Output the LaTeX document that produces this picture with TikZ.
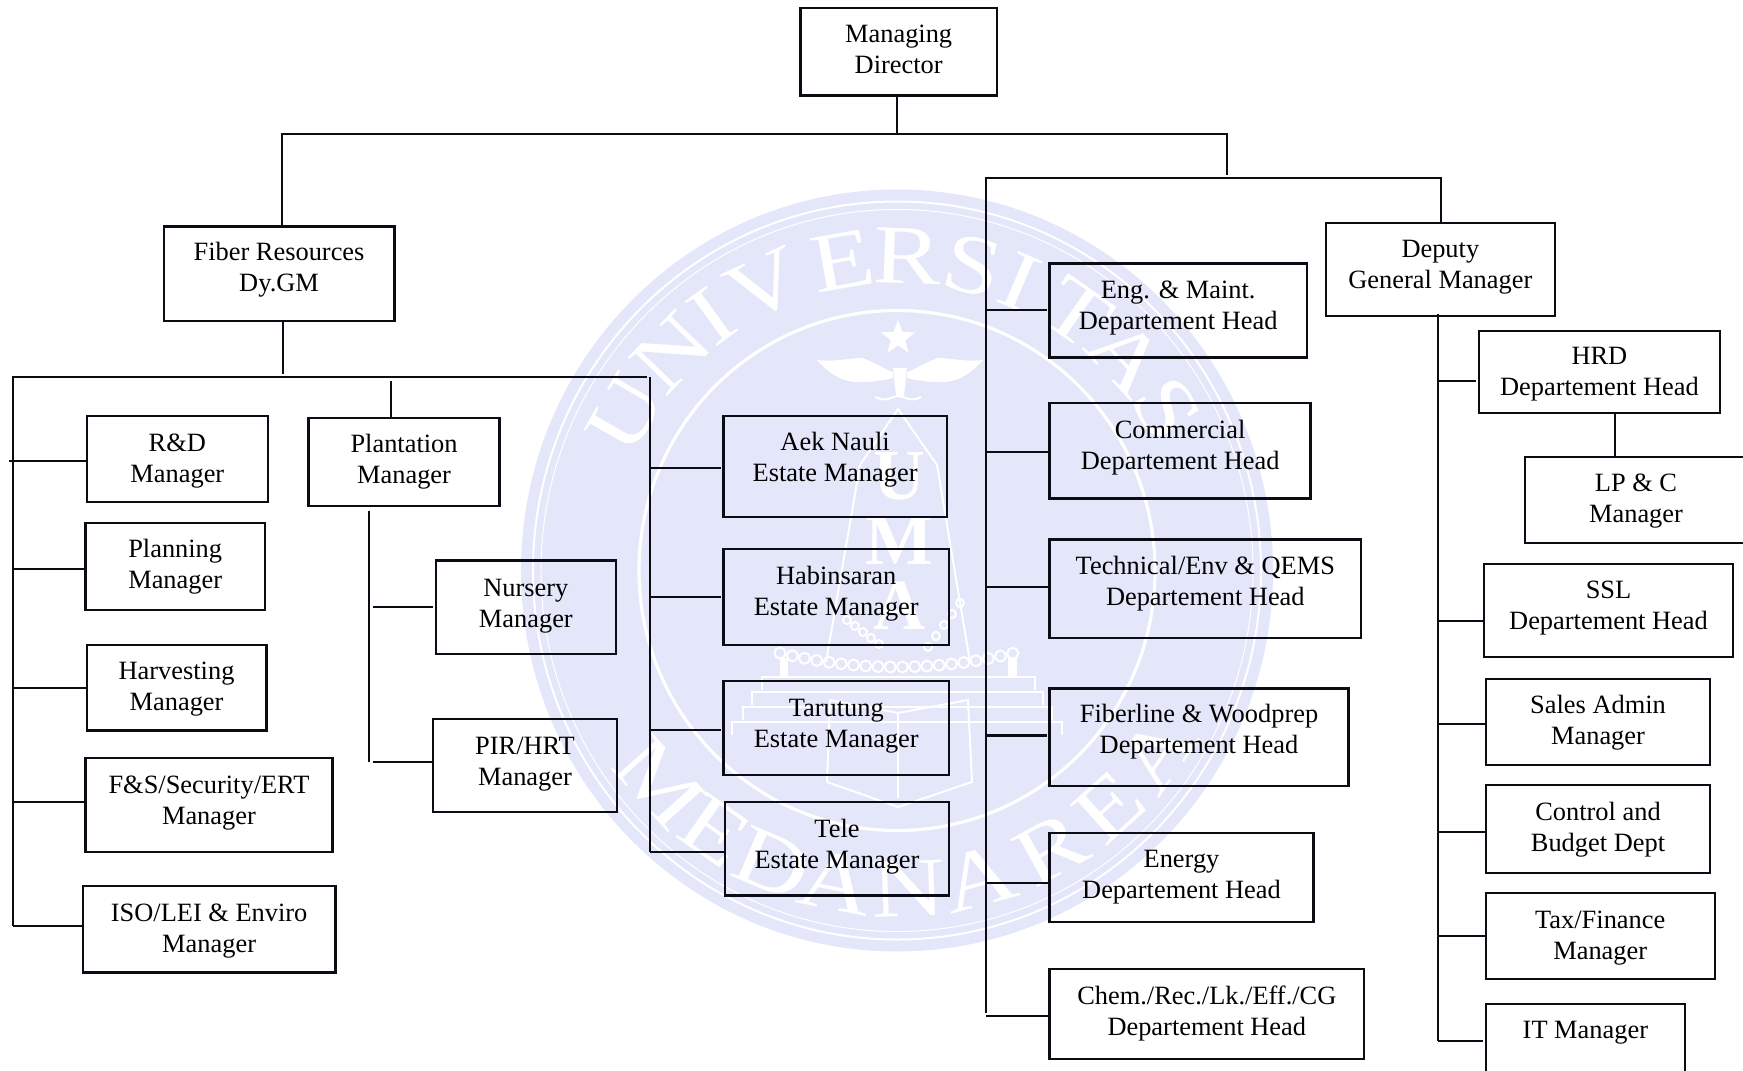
\documentclass[tikz,border=0pt]{standalone}
\usepackage{fontspec}
\setmainfont{Liberation Serif}
\usetikzlibrary{shapes.geometric}
\definecolor{wmblue}{HTML}{E4E6F9}
\definecolor{inkblack}{HTML}{0C0C14}
\newcommand{\lift}[1]{\rule[-#1]{0pt}{#1}}
\newcommand{\hd}{\rule{0pt}{13.3pt}}
\tikzset{
  orgbox/.style={draw=inkblack,line width=1.15pt,rectangle,inner sep=0pt,outer sep=0pt,align=center,font=\fontsize{13.2}{15.5}\selectfont},
  link/.style={draw=inkblack,line width=1.05pt},
  gap/.style={shorten >=1.5pt},
  wmline/.style={draw=white,line width=1pt},
  wmletter/.style={transform shape,xscale=1.22,text=white,inner sep=0pt,font=\fontsize{42}{42}\selectfont},
  wmshield/.style={text=white,inner sep=0pt,font=\fontsize{36}{36}\selectfont\bfseries}
}
\begin{document}
\begin{tikzpicture}[x=.5pt,y=-.5pt]
\useasboundingbox (0,0) rectangle (1743,1070);
\clip (0,0) rectangle (1743,1070);
% watermark
\fill[wmblue] (897,570.5) ellipse [x radius=376,y radius=381];
\draw[wmline] (897,570.5) ellipse [x radius=364,y radius=369];
\draw[wmline,line width=.5pt] (897,570.5) ellipse [x radius=356,y radius=361];
\draw[wmline,line width=1.6pt] (897,570.5) ellipse [x radius=258,y radius=260];
\begin{scope}[shift={(897,570.5)},y=.5pt]
\node[rotate=60,wmletter] (wmU) at (150:314) {U};
\node[rotate=46,wmletter] (wmN) at (136:314) {N};
\node[rotate=36,wmletter] (wmI) at (126:314) {I};
\node[rotate=25,wmletter] (wmV) at (115:314) {V};
\node[rotate=10,wmletter] (wmE) at (100:314) {E};
\node[rotate=-2,wmletter] (wmR) at (88:314) {R};
\node[rotate=-14,wmletter] (wmS) at (76:314) {S};
\node[rotate=-23,wmletter] (wmIb) at (67:314) {I};
\node[rotate=-35,wmletter] (wmT) at (55:314) {T};
\node[rotate=-47,wmletter] (wmA) at (43:314) {A};
\node[rotate=-59,wmletter] (wmSb) at (31:314) {S};
\node[rotate=-48,wmletter] (wmM) at (222:318) {M};
\node[rotate=-35,wmletter] (wmEb) at (235:318) {E};
\node[rotate=-23,wmletter] (wmD) at (247:318) {D};
\node[rotate=-11,wmletter] (wmAb) at (259:318) {A};
\node[rotate=2,wmletter] (wmNb) at (272:318) {N};
\node[rotate=15,wmletter] (wmAc) at (285:318) {A};
\node[rotate=29,wmletter] (wmRb) at (299:318) {R};
\node[rotate=42,wmletter] (wmEc) at (312:318) {E};
\node[rotate=55,wmletter] (wmAd) at (325:318) {A};
\end{scope}
\node[star,star points=5,star point ratio=2.4,fill=white,inner sep=0pt,minimum size=18pt] (wmstar) at (898,338) {};
\fill[white] (817,360) .. controls (835,362) and (850,358) .. (862,358) .. controls (875,362) and (885,370) .. (893,372) -- (893,378) .. controls (875,382) and (870,382) .. (858,382) .. controls (840,382) and (828,372) .. (817,360) -- cycle;
\fill[white] (983,360) .. controls (965,362) and (950,358) .. (938,358) .. controls (925,362) and (915,370) .. (907,372) -- (907,378) .. controls (925,382) and (930,382) .. (942,382) .. controls (960,382) and (972,372) .. (983,360) -- cycle;
\fill[white] (893,368) -- (907,368) -- (904,396) -- (896,396) -- cycle;
\draw[wmline] (875,397) .. controls (888,403) and (892,396) .. (898,396) .. controls (905,396) and (910,403) .. (921,397);
\draw[wmline] (826,662) -- (860,465) -- (898,409) -- (937,465) -- (970,662);
\node[wmshield] (wmshieldU) at (899,476) {U};
\node[wmshield] (wmshieldM) at (899,541) {M};
\node[wmshield] (wmshieldA) at (899,606) {A};
\foreach \i in {0,...,19}{
  \pgfmathsetmacro{\bx}{780+12.25*\i}
  \pgfmathsetmacro{\by}{667-14*((\bx-897)/117)^2}
  \draw[wmline] (\bx,\by) circle [radius=5.5];
}
\foreach \i in {0,...,4}{
  \draw[wmline] (847+8*\i,620+6*\i) circle [radius=4];
  \draw[wmline] (960-8*\i,603+11*\i) circle [radius=4];
}
\fill[white] (780,658) rectangle (788,677);
\fill[white] (1008,658) rectangle (1017,677);
\draw[wmline] (762,690) -- (762,677) -- (1035,677) -- (1035,690);
\draw[wmline] (752,705) -- (752,692) -- (1043,692) -- (1043,705);
\draw[wmline] (743,720) -- (743,707) -- (1052,707) -- (1052,720);
\draw[wmline] (732,735) -- (732,722) -- (1062,722) -- (1062,735);
\draw[wmline] (827,782) -- (898,807) -- (972,782) -- (968,700) -- (898,713) -- (830,700) -- cycle;
\draw[wmline] (898,713) -- (898,798);
% top level
\node[orgbox,minimum width=98.15pt,minimum height=43.75pt] (md) at (898.65,51.65) {\hd Managing\\Director\lift{7.2pt}};
\node[orgbox,minimum width=115.35pt,minimum height=47.15pt] (fiber) at (279.05,273.75) {\hd Fiber Resources\\Dy.GM\lift{11.3pt}};
\node[orgbox,minimum width=114.35pt,minimum height=46.8pt] (deputy) at (1440.35,269.5) {\hd Deputy\\General Manager\lift{10.1pt}};
% left branch
\node[orgbox,minimum width=90.65pt,minimum height=43pt] (rd) at (177.35,459) {\hd R\&D\\Manager\lift{5.4pt}};
\node[orgbox,minimum width=95.55pt,minimum height=44.1pt] (plantation) at (404.05,461.8) {\hd Plantation\\Manager\lift{7.5pt}};
\node[orgbox,minimum width=89.8pt,minimum height=43.6pt] (planning) at (175.2,566.3) {\hd Planning\\Manager\lift{6.2pt}};
\node[orgbox,minimum width=89.85pt,minimum height=42.85pt] (harvesting) at (176.55,687.55) {\hd Harvesting\\Manager\lift{5.5pt}};
\node[orgbox,minimum width=123.55pt,minimum height=47.15pt] (fns) at (208.95,805.15) {\hd F\&S/Security/ERT\\Manager\lift{9.8pt}};
\node[orgbox,minimum width=126.25pt,minimum height=43.25pt] (iso) at (209.15,929.25) {\hd ISO/LEI \& Enviro\\Manager\lift{5.2pt}};
\node[orgbox,minimum width=89.85pt,minimum height=46.85pt] (nursery) at (525.85,607.45) {\hd Nursery\\Manager\lift{8.5pt}};
\node[orgbox,minimum width=92pt,minimum height=46.35pt] (pir) at (525,765.35) {\hd PIR/HRT\\Manager\lift{8.3pt}};
\node[orgbox,minimum width=111.6pt,minimum height=50.6pt] (aek) at (835.1,466.6) {\hd Aek Nauli\\Estate Manager\lift{14pt}};
\node[orgbox,minimum width=112.75pt,minimum height=47.7pt] (habinsaran) at (836.25,597) {\hd Habinsaran\\Estate Manager\lift{9.9pt}};
\node[orgbox,minimum width=112.75pt,minimum height=47pt] (tarutung) at (836.25,728.2) {\hd Tarutung\\Estate Manager\lift{9.5pt}};
\node[orgbox,minimum width=112pt,minimum height=46.85pt] (tele) at (837,848.55) {\hd Tele\\Estate Manager\lift{8.8pt}};
% right branch
\node[orgbox,minimum width=128.6pt,minimum height=47pt] (eng) at (1178.2,310.4) {\hd Eng. \& Maint.\\Departement Head\lift{10.2pt}};
\node[orgbox,minimum width=130.5pt,minimum height=47.7pt] (commercial) at (1180.1,450.9) {\hd Commercial\\Departement Head\lift{9.9pt}};
\node[orgbox,minimum width=155.7pt,minimum height=49.1pt] (technical) at (1205.3,588.7) {\hd Technical/Env \& QEMS\\Departement Head\lift{12.3pt}};
\node[orgbox,minimum width=149.4pt,minimum height=48.9pt] (fiberline) at (1199,737.3) {\hd Fiberline \& Woodprep\\Departement Head\lift{12.3pt}};
\node[orgbox,minimum width=131.9pt,minimum height=44.6pt] (energy) at (1181.5,877.6) {\hd Energy\\Departement Head\lift{7.5pt}};
\node[orgbox,minimum width=157.2pt,minimum height=45.3pt] (chem) at (1206.8,1014) {\hd Chem./Rec./Lk./Eff./CG\\Departement Head\lift{7.4pt}};
% deputy branch
\node[orgbox,minimum width=120.65pt,minimum height=41.15pt] (hrd) at (1599.35,372.15) {\hd HRD\\Departement Head\lift{5.3pt}};
\node[orgbox,minimum width=111pt,minimum height=42.85pt] (lpc) at (1636,499.85) {\hd LP \& C\\Manager\lift{5.9pt}};
\node[orgbox,minimum width=124.2pt,minimum height=46.8pt] (ssl) at (1608.5,610.5) {\hd SSL\\Departement Head\lift{10pt}};
\node[orgbox,minimum width=112.3pt,minimum height=43.3pt] (sales) at (1598,722) {\hd Sales Admin\\Manager\lift{6.6pt}};
\node[orgbox,minimum width=112.3pt,minimum height=44.15pt] (control) at (1598,829.15) {\hd Control and\\Budget Dept\lift{6.7pt}};
\node[orgbox,minimum width=114.5pt,minimum height=42.85pt] (tax) at (1600.2,935.85) {\hd Tax/Finance\\Manager\lift{5.5pt}};
\node[orgbox,minimum width=99.65pt,minimum height=35.65pt] (it) at (1585.35,1039.35) {\hd IT Manager\lift{13.7pt}};
% bus corners and stubs
\coordinate (topL) at (282,134.3);
\coordinate (topR) at (1226.6,134.3);
\coordinate (mdjoin) at (897.2,134.3);
\coordinate (rightend) at (1226.6,174.6);
\coordinate (rightbusL) at (986,178);
\coordinate (rightbusR) at (1440.7,178);
\coordinate (rightbusend) at (986,1013);
\coordinate (fiberend) at (283.2,373.6);
\coordinate (leftbusL) at (12.6,377);
\coordinate (leftbusR) at (647,377);
\coordinate (midbustop) at (650.4,377);
\coordinate (plantationtop) at (391.4,381);
\coordinate (plantationbus) at (368.7,510.7);
\coordinate (plantationend) at (368.7,762.4);
\coordinate (deputybus) at (1438,314);
\coordinate (deputyend) at (1438,1041);
\coordinate (hrdlp) at (1614.7,413);
\coordinate (stubrd) at (9,460.7);
\coordinate (stubplanning) at (12.6,568.9);
\coordinate (stubharvesting) at (12.6,688.4);
\coordinate (stubfns) at (12.6,801.7);
\coordinate (stubiso) at (12.6,926.4);
\coordinate (stubnursery) at (372.5,606.8);
\coordinate (stubpir) at (372.5,762.4);
\coordinate (stubaek) at (650.4,468.3);
\coordinate (stubhabinsaran) at (650.4,597.1);
\coordinate (stubtarutung) at (650.4,729.7);
\coordinate (stubtele) at (650.4,852.3);
\coordinate (stubeng) at (986,309.6);
\coordinate (stubcommercial) at (986,452.1);
\coordinate (stubtechnical) at (986,587.2);
\coordinate (stubfiberline) at (986,735.6);
\coordinate (stubenergy) at (986,883.3);
\coordinate (stubchem) at (986,1016.2);
\coordinate (stubhrd) at (1438,381);
\coordinate (stubssl) at (1438,620.7);
\coordinate (stubsales) at (1438,724.3);
\coordinate (stubcontrol) at (1438,832.3);
\coordinate (stubtax) at (1438,936.3);
\coordinate (stubit) at (1438,1041);
% connectors
\draw[link] (mdjoin |- md.south) -- (mdjoin);
\draw[link] (topL |- fiber.north) -- (topL) -- (topR) -- (rightend);
\draw[link] (rightbusend) -- (rightbusL) -- (rightbusR) -- (rightbusR |- deputy.north);
\draw[link] (fiberend |- fiber.south) -- (fiberend);
\draw[link] (stubiso) -- (leftbusL) -- (leftbusR);
\draw[link] (midbustop) -- (stubtele);
\draw[link] (plantationtop) -- (plantationtop |- plantation.north);
\draw[link] (plantationbus) -- (plantationend);
\draw[link] (deputybus) -- (deputyend);
\draw[link] (hrdlp) -- (hrdlp |- lpc.north);
\draw[link] (stubrd) -- (stubrd -| rd.west);
\draw[link] (stubplanning) -- (stubplanning -| planning.west);
\draw[link] (stubharvesting) -- (stubharvesting -| harvesting.west);
\draw[link] (stubfns) -- (stubfns -| fns.west);
\draw[link] (stubiso) -- (stubiso -| iso.west);
\draw[link,gap] (stubnursery) -- (stubnursery -| nursery.west);
\draw[link] (stubpir) -- (stubpir -| pir.west);
\draw[link,gap] (stubaek) -- (stubaek -| aek.west);
\draw[link,gap] (stubhabinsaran) -- (stubhabinsaran -| habinsaran.west);
\draw[link,gap] (stubtarutung) -- (stubtarutung -| tarutung.west);
\draw[link] (stubtele) -- (stubtele -| tele.west);
\draw[link,gap] (stubeng) -- (stubeng -| eng.west);
\draw[link] (stubcommercial) -- (stubcommercial -| commercial.west);
\draw[link] (stubtechnical) -- (stubtechnical -| technical.west);
\draw[link,gap,line width=1.4pt] (stubfiberline) -- (stubfiberline -| fiberline.west);
\draw[link] (stubenergy) -- (stubenergy -| energy.west);
\draw[link] (stubchem) -- (stubchem -| chem.west);
\draw[link,gap] (stubhrd) -- (stubhrd -| hrd.west);
\draw[link] (stubssl) -- (stubssl -| ssl.west);
\draw[link] (stubsales) -- (stubsales -| sales.west);
\draw[link] (stubcontrol) -- (stubcontrol -| control.west);
\draw[link] (stubtax) -- (stubtax -| tax.west);
\draw[link,gap] (stubit) -- (stubit -| it.west);
\end{tikzpicture}
\end{document}
